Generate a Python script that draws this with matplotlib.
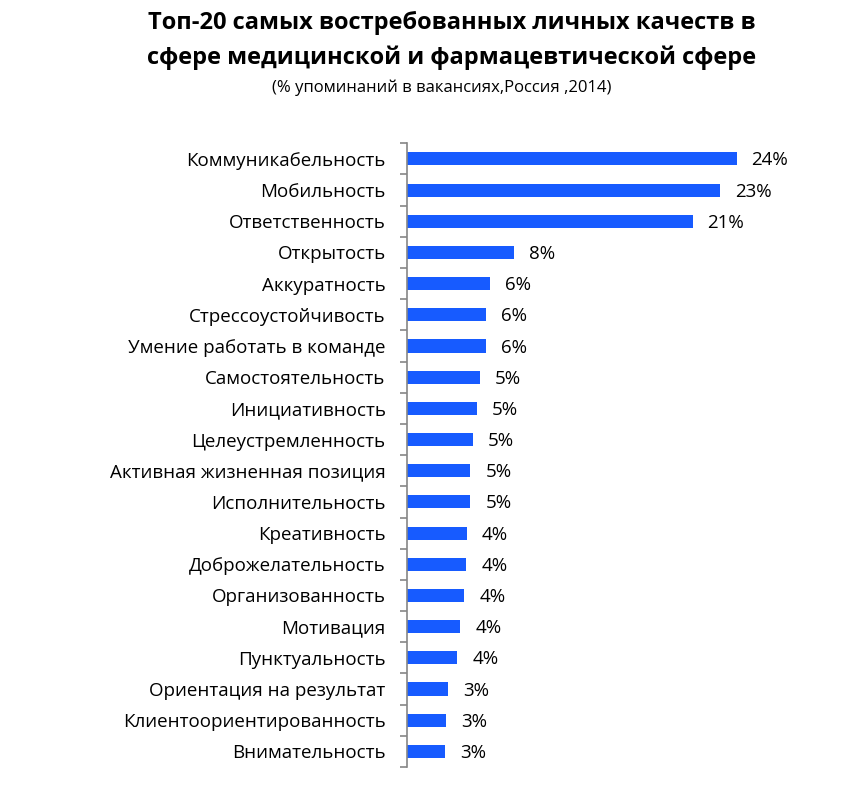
import matplotlib
matplotlib.use("Agg")
import matplotlib.pyplot as plt
import numpy as np

plt.rcParams['font.family'] = ['Open Sans', 'DejaVu Sans']

categories = [
    "Коммуникабельность", "Мобильность", "Ответственность", "Открытость",
    "Аккуратность", "Стрессоустойчивость", "Умение работать в команде",
    "Самостоятельность", "Инициативность", "Целеустремленность",
    "Активная жизненная позиция", "Исполнительность", "Креативность",
    "Доброжелательность", "Организованность", "Мотивация", "Пунктуальность",
    "Ориентация на результат", "Клиентоориентированность", "Внимательность",
]
values = [24.0, 22.8, 20.8, 7.8, 6.06, 5.77, 5.77, 5.33, 5.1, 4.8,
          4.65, 4.65, 4.4, 4.36, 4.2, 3.9, 3.7, 3.0, 2.9, 2.8]

title_lines = ["Топ-20 самых востребованных личных качеств в",
               "сфере медицинской и фармацевтической сфере"]
subtitle = "(% упоминаний в вакансиях,Россия ,2014)"

W, H = 843, 808
fig = plt.figure(figsize=(W / 100, H / 100), dpi=100)
ax = fig.add_axes([406.5 / W, 1 - 767 / H, 412.5 / W, 623.7 / H])

y = np.arange(len(categories))
ax.barh(y, values, height=0.42, color='#175BFF', zorder=2)
ax.set_ylim(len(categories) - 0.5, -0.5)
ax.set_xlim(0, 30)

for yi, v in zip(y, values):
    ax.text(v + 15 / 13.75, yi + 0.05, f"{v:.0f}%", va='center', ha='left',
            fontsize=13.5, color='black')

ax.set_yticks(y)
ax.set_yticklabels(categories, fontsize=13.5)
ax.tick_params(axis='y', which='major', length=0, pad=15)
ax.set_yticks(np.arange(-0.5, len(categories)), minor=True)
ax.tick_params(axis='y', which='minor', length=5, width=1.2, color='#868686', direction='out')
ax.set_xticks([])
for s in ['top', 'right', 'bottom']:
    ax.spines[s].set_visible(False)
ax.spines['left'].set_color('#868686')
ax.spines['left'].set_linewidth(1.2)

fig.text(452 / W, 1 - 23 / H, title_lines[0], ha='center', va='center', fontsize=17,
         fontweight='bold')
fig.text(452 / W, 1 - 58 / H, title_lines[1], ha='center', va='center', fontsize=17,
         fontweight='bold')
fig.text(442 / W, 1 - 88 / H, subtitle, ha='center', va='center', fontsize=12)

fig.savefig("out.png", dpi=100)
